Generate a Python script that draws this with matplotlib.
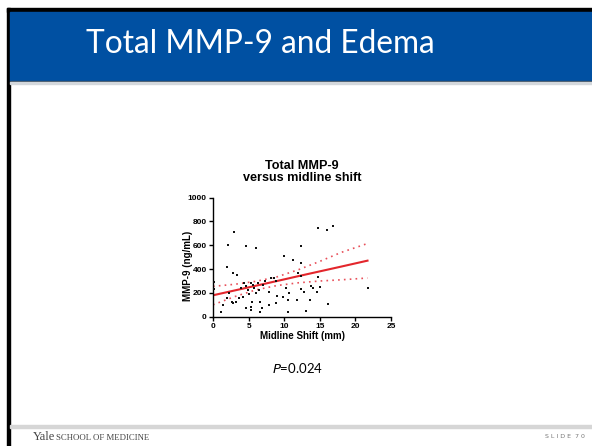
import matplotlib.pyplot as plt
from matplotlib.patches import Rectangle

# scatter data (midline shift mm, MMP-9 ng/mL)
shift = [2.1, 3.0, 1.96, 2.8, 3.4, 4.6, 6.0, 2.3, 1.9, 1.4, 1.1, 2.6, 2.8, 3.3, 3.7,
         4.2, 3.9, 4.4, 4.7, 4.9, 5.1, 5.4, 5.6, 5.8, 6.1, 6.3, 6.5, 5.5, 5.3, 4.6,
         5.4, 6.6, 6.9, 6.6, 7.0, 7.25, 7.9, 8.1, 8.6, 8.9, 7.8, 9.0, 8.9, 10.0, 10.3,
         9.9, 10.5, 10.7, 10.6, 11.2, 11.8, 11.9, 12.3, 12.4, 12.3, 12.4, 12.85, 13.1,
         13.6, 13.8, 14.0, 14.6, 14.7, 14.7, 15.0, 16.0, 16.8, 16.1, 21.7, 0.1, 0.1]
mmp9 = [600, 710, 417, 366, 352, 592, 577, 203, 155, 96, 37, 127, 113, 127, 155,
        169, 245, 282, 259, 225, 192, 287, 268, 239, 197, 282, 225, 127, 85, 70,
        56, 37, 70, 127, 268, 296, 99, 324, 324, 296, 211, 177, 113, 507, 239,
        163, 42, 197, 141, 479, 141, 366, 338, 592, 451, 231, 211, 48,
        141, 254, 239, 206, 746, 332, 248, 732, 760, 104, 239, 290, 230]

# fitted line and 95% band
fit_x = [0, 3, 6, 9, 12, 15, 18, 21.7]
fit_y = [180, 220, 260, 300, 341, 381, 421, 471]
band_hi = [255, 272, 297, 335, 395, 465, 540, 615]
band_lo = [100, 168, 225, 262, 285, 300, 310, 325]

W, H = 592, 446
fig = plt.figure(figsize=(W / 100, H / 100), dpi=100)
bg = fig.add_axes([0, 0, 1, 1])
bg.set_xlim(0, W)
bg.set_ylim(H, 0)
bg.axis('off')

# slide frame
bg.add_patch(Rectangle((7, 8), W, 3.5, color='black'))
bg.add_patch(Rectangle((7, 8), 2.5, H, color='black'))
bg.add_patch(Rectangle((9.5, 11.5), W, 69.5, color='#0050a2'))
bg.add_patch(Rectangle((9.5, 80.5), W, 1.5, color='#34495e'))
bg.add_patch(Rectangle((9.5, 82), W, 2, color='#d4d8dc'))
bg.add_patch(Rectangle((9.5, 424.5), W, 3.5, color='#d6d6d6'))

bg.text(260, 44, 'Total MMP-9 and Edema', color='white', fontsize=22.8,
        family='Lato', ha='center', va='center')
bg.text(298, 368, '$P$=0.024', fontsize=9.5, family='Lato', ha='center', va='center')
bg.text(33, 437, 'Yale', fontsize=9, family='Liberation Serif', color='#444444',
        ha='left', va='center')
bg.text(56, 437.5, 'SCHOOL OF MEDICINE', fontsize=6.3, family='Liberation Serif',
        color='#444444', ha='left', va='center')
bg.text(585, 437, 'S L I D E  7 0', fontsize=4.5, color='#777777', ha='right', va='center')

# chart title
bg.text(302, 172, 'Total MMP-9\nversus midline shift', fontsize=9.1, fontweight='bold',
        family='Liberation Sans', ha='center', va='center', linespacing=1.0)

ax = fig.add_axes([213 / W, 1 - 316.7 / H, 178 / W, 119 / H])
ax.set_xlim(0, 25)
ax.set_ylim(0, 1000)
for s in ['top', 'right']:
    ax.spines[s].set_visible(False)
for s in ['left', 'bottom']:
    ax.spines[s].set_linewidth(1.0)

ax.scatter(shift, mmp9, s=4.5, marker='s', color='#111111', linewidths=0, clip_on=False, zorder=3)
ax.plot(fit_x, fit_y, color='#e3262c', lw=1.5, zorder=2)
ax.plot(fit_x, band_hi, color='#e8505a', lw=1.2, ls=(0, (1, 2.5)), zorder=2)
ax.plot(fit_x, band_lo, color='#e8505a', lw=1.2, ls=(0, (1, 2.5)), zorder=2)

ax.set_xticks([0, 5, 10, 15, 20, 25])
ax.set_yticks([0, 200, 400, 600, 800, 1000])
ax.tick_params(length=3, width=1.0, pad=1.5, labelsize=6)
for lab in ax.get_xticklabels() + ax.get_yticklabels():
    lab.set_fontweight('bold')
    lab.set_family('Liberation Sans')
ax.set_xlabel('Midline Shift (mm)', fontsize=7, fontweight='bold',
              family='Liberation Sans', labelpad=1)
ax.set_ylabel('MMP-9 (ng/mL)', fontsize=7, fontweight='bold',
              family='Liberation Sans')
ax.yaxis.set_label_coords(-0.115, 0.43)

fig.savefig('out.png', dpi=100)
